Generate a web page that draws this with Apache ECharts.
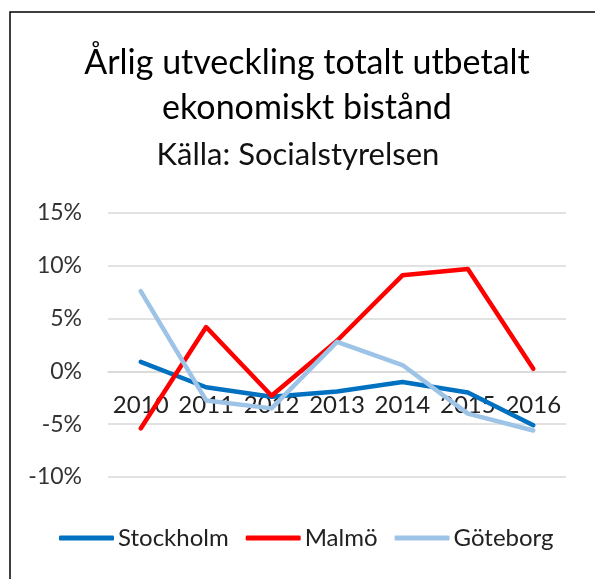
<!DOCTYPE html>
<html>
<head>
<meta charset="utf-8">
<script src="https://cdn.jsdelivr.net/npm/echarts@6/dist/echarts.min.js"></script>
<style>
  html, body { margin: 0; padding: 0; background: #fff; }
  #chart { width: 595px; height: 579px; }
</style>
</head>
<body>
<div id="chart"></div>
<script>
const years = ['2010', '2011', '2012', '2013', '2014', '2015', '2016']
const stockholm = [0.9, -1.5, -2.4, -1.9, -1.0, -2.0, -5.1]
const malmo = [-5.4, 4.2, -2.3, 2.9, 9.1, 9.7, 0.25]
const goteborg = [7.6, -2.75, -3.5, 2.8, 0.6, -4.0, -5.6]

const fontFamily = 'Lato, "Open Sans", sans-serif'

const chart = echarts.init(document.getElementById('chart'))

function lineSeries(name, data, color) {
  return {
    name,
    type: 'line',
    data,
    symbol: 'none',
    z: 5,
    lineStyle: { width: 4.5, color, cap: 'round', join: 'round' },
    itemStyle: { color },
  }
}

// plot height 264 px split in 5 steps -> the 0% line sits two steps above the bottom
const zeroOffset = -(264 / 5) * 2

chart.setOption({
  animation: false,
  textStyle: { fontFamily },
  graphic: [
    {
      type: 'rect',
      shape: { x: 10, y: 12, width: 620, height: 620 },
      style: { fill: 'none', stroke: '#000', lineWidth: 1.5 },
      silent: true,
    },
  ],
  title: [
    {
      text: 'Årlig utveckling totalt utbetalt\nekonomiskt bistånd',
      left: 302,
      top: 36,
      textAlign: 'center',
      textStyle: {
        fontFamily,
        fontSize: 34,
        fontWeight: 'normal',
        lineHeight: 45,
        color: '#000',
      },
    },
    {
      text: 'Källa: Socialstyrelsen',
      left: 293,
      top: 134,
      textAlign: 'center',
      textStyle: {
        fontFamily,
        fontSize: 31,
        fontWeight: 'normal',
        color: '#111',
      },
    },
  ],
  grid: { left: 108, right: 29, top: 213, bottom: 102 },
  xAxis: {
    type: 'category',
    data: years,
    offset: zeroOffset,
    axisLine: { show: true, onZero: false, lineStyle: { color: '#d9d9d9', width: 1.5 } },
    axisTick: { show: false },
    axisLabel: { interval: 0, fontSize: 24, color: '#222', margin: 22, fontFamily },
  },
  yAxis: {
    type: 'value',
    min: -10,
    max: 15,
    interval: 5,
    axisLabel: {
      formatter: '{value}%',
      fontSize: 23,
      color: '#333',
      margin: 26,
      fontFamily,
    },
    axisLine: { show: false },
    axisTick: { show: false },
    splitLine: { lineStyle: { color: '#d9d9d9', width: 1.5 } },
  },
  legend: {
    top: 526,
    left: 59,
    padding: 0,
    icon: 'roundRect',
    itemWidth: 55,
    itemHeight: 5,
    itemGap: 17,
    textStyle: { fontSize: 24, color: '#222', padding: [0, 0, 0, -1], fontFamily },
    data: ['Stockholm', 'Malmö', 'Göteborg'],
  },
  series: [
    lineSeries('Stockholm', stockholm, '#0070C0'),
    lineSeries('Malmö', malmo, '#FF0000'),
    lineSeries('Göteborg', goteborg, '#9DC3E6'),
  ],
})
</script>
</body>
</html>
